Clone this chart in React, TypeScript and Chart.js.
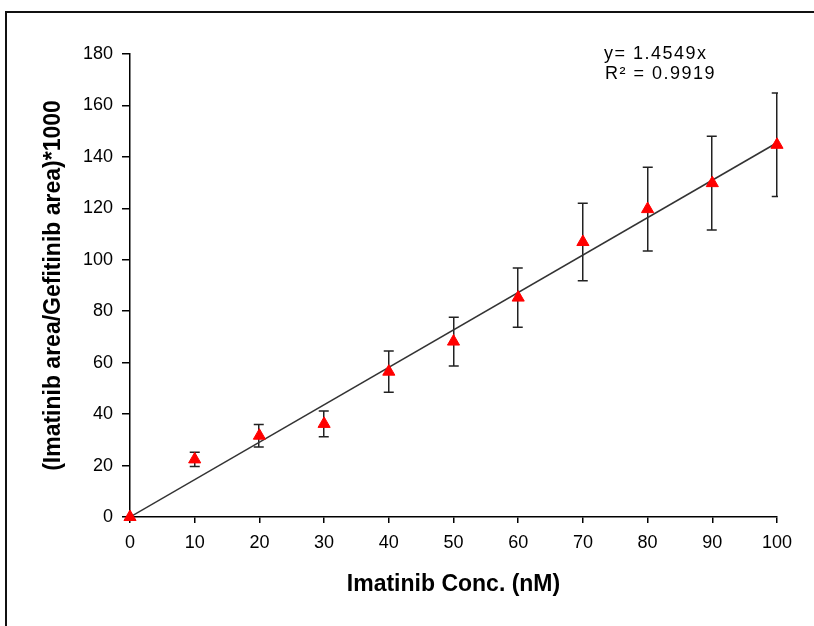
import React, { useEffect, useRef } from 'react';
import { Chart, registerables } from 'chart.js';

Chart.register(...registerables);

// Imatinib calibration: concentration (nM) vs. peak-area ratio x1000
const concentrations = [0, 10, 20, 30, 40, 50, 60, 70, 80, 90, 100];
const meanRatios = [0, 22.4, 31.6, 36.2, 56.5, 68.2, 85.3, 106.9, 119.7, 129.8, 144.7];
const errorRatios = [0, 2.8, 4.4, 5.0, 8.0, 9.5, 11.5, 15.1, 16.3, 18.2, 20.1];

// Linear fit through the origin
const fitSlope = 1.4549;
const fitR2 = 0.9919;
const fitRange = [0, 100];

// Axis ticks
const xTickValues = [0, 10, 20, 30, 40, 50, 60, 70, 80, 90, 100];
const yTickValues = [0, 20, 40, 60, 80, 100, 120, 140, 160, 180];

const FONT = "'Liberation Sans', Arial, Helvetica, sans-serif";

const framePlugin = {
  id: 'frame',
  beforeDraw(chart: any) {
    const { ctx, width, height } = chart;
    ctx.save();
    ctx.fillStyle = '#fff';
    ctx.fillRect(0, 0, width, height);
    ctx.strokeStyle = '#111';
    ctx.lineWidth = 2;
    ctx.beginPath();
    ctx.moveTo(6, height);
    ctx.lineTo(6, 12);
    ctx.lineTo(width, 12);
    ctx.stroke();
    ctx.restore();
  },
};

// Error bars sit behind the markers; caps are cut off at the plot edge
const errorBarPlugin = {
  id: 'errorBars',
  beforeDatasetsDraw(chart: any) {
    const { ctx, chartArea, scales } = chart;
    const xs = scales.x;
    const ys = scales.y;
    ctx.save();
    ctx.beginPath();
    ctx.rect(chartArea.left - 1, 0, chartArea.right - chartArea.left + 2, chart.height);
    ctx.clip();
    ctx.strokeStyle = '#222';
    ctx.lineWidth = 1.5;
    concentrations.forEach((c, i) => {
      const e = errorRatios[i];
      if (!e) return;
      const px = Math.round(xs.getPixelForValue(c)) - 0.25;
      const top = ys.getPixelForValue(meanRatios[i] + e);
      const bot = ys.getPixelForValue(meanRatios[i] - e);
      ctx.beginPath();
      ctx.moveTo(px, top);
      ctx.lineTo(px, bot);
      ctx.moveTo(px - 5, top);
      ctx.lineTo(px + 5, top);
      ctx.moveTo(px - 5, bot);
      ctx.lineTo(px + 5, bot);
      ctx.stroke();
    });
    ctx.restore();
  },
};

const equationPlugin = {
  id: 'equation',
  afterDatasetsDraw(chart: any) {
    const { ctx } = chart;
    ctx.save();
    ctx.fillStyle = '#000';
    ctx.font = `18px ${FONT}`;
    ctx.textAlign = 'left';
    ctx.textBaseline = 'alphabetic';
    try {
      (ctx as any).letterSpacing = '1.5px';
    } catch (e) {
      /* older canvas */
    }
    ctx.fillText(`y= ${fitSlope}x`, 604, 59);
    ctx.fillText(`R\u00B2 = ${fitR2}`, 605, 79);
    ctx.restore();
  },
};

export default function App() {
  const canvasRef = useRef<HTMLCanvasElement | null>(null);

  useEffect(() => {
    const canvas = canvasRef.current;
    if (!canvas) return;

    const chart = new Chart(canvas, {
      type: 'scatter',
      data: {
        datasets: [
          {
            type: 'line',
            label: 'Linear fit',
            data: fitRange.map((x) => ({ x, y: fitSlope * x })),
            borderColor: '#333',
            borderWidth: 1.5,
            pointRadius: 0,
            fill: false,
            order: 2,
          } as any,
          {
            type: 'scatter',
            label: 'Imatinib',
            data: concentrations.map((x, i) => ({ x, y: meanRatios[i] })),
            pointStyle: 'triangle',
            pointRadius: 7,
            backgroundColor: '#ff0000',
            borderColor: '#ff0000',
            borderWidth: 1,
            clip: false,
            order: 1,
          } as any,
        ],
      },
      options: {
        animation: false,
        responsive: false,
        maintainAspectRatio: false,
        layout: { padding: { left: 0, top: 54, right: 37, bottom: 0 } },
        plugins: {
          legend: { display: false },
          tooltip: { enabled: false },
        },
        scales: {
          x: {
            type: 'linear',
            position: 'bottom',
            min: 0,
            max: 100,
            afterBuildTicks: (s: any) => {
              s.ticks = xTickValues.map((value) => ({ value }));
            },
            afterFit: (s: any) => {
              s.height = 109;
            },
            border: { color: '#000', width: 1.5 },
            grid: {
              drawOnChartArea: false,
              color: '#000',
              lineWidth: 1.5,
              tickLength: 6,
            },
            ticks: {
              color: '#000',
              font: { family: FONT, size: 18 },
              padding: 9,
              maxRotation: 0,
              autoSkip: false,
            },
            title: {
              display: true,
              text: 'Imatinib Conc. (nM)',
              color: '#000',
              font: { family: FONT, size: 23, weight: 'bold' },
              padding: { top: 0, bottom: 28 },
            },
          },
          y: {
            type: 'linear',
            position: 'left',
            min: 0,
            max: 180,
            afterBuildTicks: (s: any) => {
              s.ticks = yTickValues.map((value) => ({ value }));
            },
            afterFit: (s: any) => {
              s.width = 130;
            },
            border: { color: '#000', width: 1.5 },
            grid: {
              drawOnChartArea: false,
              color: '#000',
              lineWidth: 1.5,
              tickLength: 8,
            },
            ticks: {
              color: '#000',
              font: { family: FONT, size: 18 },
              padding: 9,
              autoSkip: false,
            },
            title: {
              display: true,
              text: '(Imatinib area/Gefitinib area)*1000',
              color: '#000',
              font: { family: FONT, size: 23, weight: 'bold' },
              padding: { top: 40, bottom: 0 },
            },
          },
        },
      } as any,
      plugins: [framePlugin, errorBarPlugin, equationPlugin],
    });

    return () => chart.destroy();
  }, []);

  return (
    <div
      style={{
        position: 'absolute',
        left: 0,
        top: 0,
        width: 814,
        height: 626,
        background: '#fff',
      }}
    >
      <canvas
        ref={canvasRef}
        width={814}
        height={626}
        style={{ display: 'block', width: 814, height: 626 }}
      />
    </div>
  );
}
